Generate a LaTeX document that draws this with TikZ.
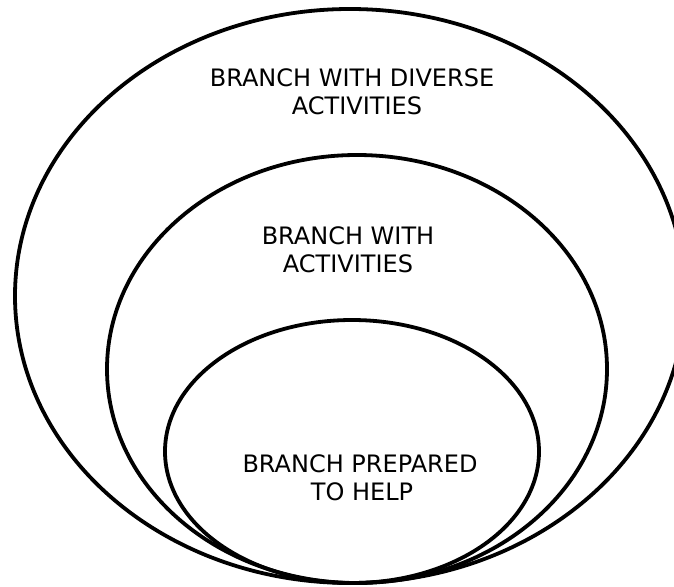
\documentclass[tikz,border=0pt]{standalone}
\usepackage{fontspec}
\setmainfont{DejaVu Sans}
\tikzset{
  x=1pt, y=-1pt,
  ring/.style={draw=black, line width=3.8pt},
  label/.style={align=center, font=\fontsize{24pt}{28pt}\selectfont, inner sep=0pt, text=black}
}
\begin{document}
\begin{tikzpicture}
\useasboundingbox (0,0) rectangle (674,586);
\fill[white] (0,0) rectangle (674,586);
\clip (0,0) rectangle (674,586);
\draw[ring] (350,296) ellipse [x radius=335pt, y radius=287pt];
\draw[ring] (357,369) ellipse [x radius=250pt, y radius=214pt];
\draw[ring] (352,451.5) ellipse [x radius=187pt, y radius=131.5pt];
\node[label] (t1) at (352,92) {BRANCH WITH DIVERSE\\\hspace*{10pt}ACTIVITIES};
\node[label] (t2) at (348,250) {BRANCH WITH\\ACTIVITIES};
\node[label] (t3) at (360,478) {BRANCH PREPARED\\\hspace*{4pt}TO HELP};
\end{tikzpicture}
\end{document}
